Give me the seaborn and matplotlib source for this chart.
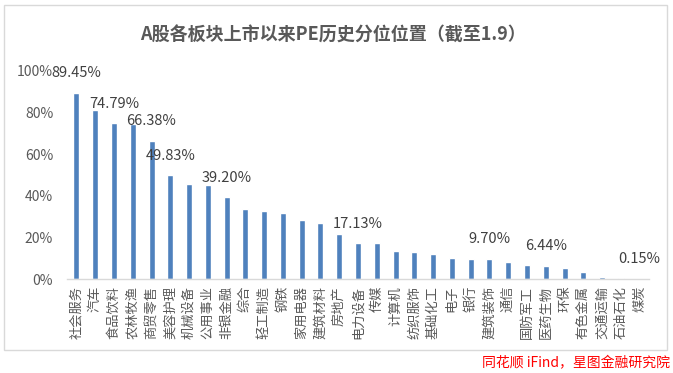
import seaborn as sns
import matplotlib.pyplot as plt
from matplotlib.patches import Rectangle
from matplotlib.ticker import FixedLocator


# sectors, sorted by PE percentile since listing
sectors = [
    "社会服务", "汽车", "食品饮料", "农林牧渔", "商贸零售", "美容护理", "机械设备",
    "公用事业", "非银金融", "综合", "轻工制造", "钢铁", "家用电器", "建筑材料",
    "房地产", "电力设备", "传媒", "计算机", "纺织服饰", "基础化工", "电子", "银行",
    "建筑装饰", "通信", "国防军工", "医药生物", "环保", "有色金属", "交通运输",
    "石油石化", "煤炭",
]

pe_pct = [
    89.45, 81.0, 74.79, 74.3, 66.38, 49.83, 45.4,
    44.9, 39.20, 33.5, 32.6, 31.6, 28.3, 26.8,
    21.8, 17.13, 17.1, 13.6, 13.1, 12.2, 10.2, 9.75,
    9.70, 8.3, 6.9, 6.44, 5.4, 3.5, 1.0,
    0.4, 0.15,
]

# only these bars carry a value label in the original
labelled = [0, 2, 4, 5, 8, 15, 22, 25, 30]

y_ticks = [0, 20, 40, 60, 80, 100]

bar_color = "#4F81BD"
text_gray = "#595959"
line_gray = "#D9D9D9"


sns.set_style("white")
plt.rcParams["font.family"] = ["Noto Sans CJK SC", "DejaVu Sans"]

fig = plt.figure(figsize=(6.73, 3.73), dpi=100)
ax = fig.add_axes([0.0996, 0.252, 0.8648, 0.5585])

sns.barplot(
    x=sectors,
    y=pe_pct,
    color=bar_color,
    width=0.32,
    saturation=1,
    ax=ax
)

ax.set_xlim(-0.5, len(sectors) - 0.5)
ax.set_ylim(0, 100)
ax.yaxis.set_major_locator(FixedLocator(y_ticks))
ax.set_yticklabels([f"{t}%" for t in y_ticks])

ax.tick_params(axis="y", length=0, pad=10, labelsize=10, labelcolor=text_gray)
ax.tick_params(axis="x", length=0, pad=5, labelsize=9.5, labelcolor=text_gray,
               labelrotation=90)

for side in ["left", "right", "top"]:
    ax.spines[side].set_visible(False)
ax.spines["bottom"].set_color(line_gray)
ax.spines["bottom"].set_linewidth(1)

for i in labelled:
    ax.annotate(
        f"{pe_pct[i]:.2f}%",
        xy=(i, pe_pct[i]),
        xytext=(0, 14),
        textcoords="offset points",
        ha="center",
        va="center",
        fontsize=10.5,
        color="#404040"
    )

# chart frame
fig.patches.append(Rectangle(
    (4 / 673, 23 / 373), 663 / 673, 345 / 373,
    transform=fig.transFigure, fill=False,
    edgecolor=line_gray, linewidth=1
))

fig.text(333 / 673, 1 - 35 / 373, "A股各板块上市以来PE历史分位位置（截至1.9）",
         ha="center", va="center", fontsize=13, fontweight="bold",
         color=text_gray)

fig.text(670 / 673, 10 / 373, "同花顺 iFind，星图金融研究院",
         ha="right", va="center", fontsize=10, style="italic", color="red")

fig.savefig("out.png", dpi=100)
